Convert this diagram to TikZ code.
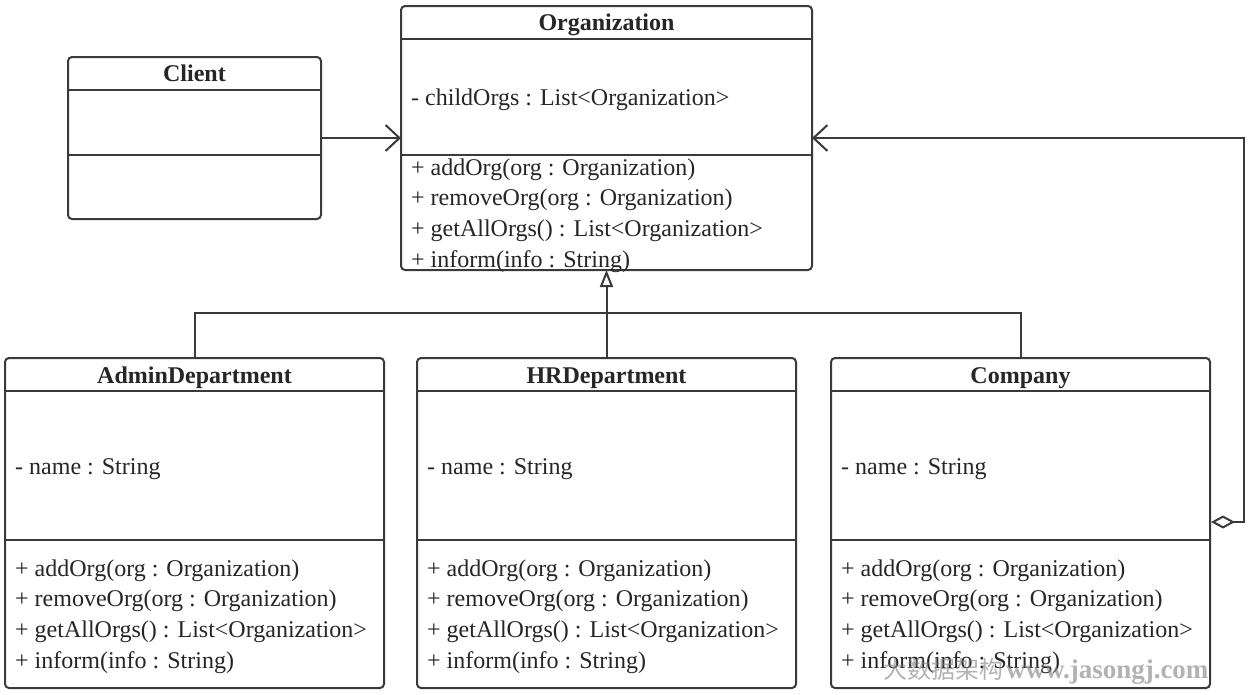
\documentclass[tikz,border=0pt]{standalone}
\usepackage{fontspec}
\setmainfont{Liberation Serif}
\newfontfamily\cjk{Noto Sans CJK SC}
\usetikzlibrary{arrows.meta}
\definecolor{linec}{HTML}{3A3A3A}
\definecolor{txtc}{HTML}{262626}
\tikzset{
 umlbox/.style={draw=linec, line width=2pt, rounded corners=4pt, inner sep=0pt, outer sep=0pt, anchor=north west},
 sepline/.style={draw=linec, line width=2pt},
 titletext/.style={font=\fontsize{24}{29}\selectfont\bfseries, text=txtc, anchor=base, inner sep=0pt},
 member/.style={font=\fontsize{24}{29}\selectfont, text=txtc, anchor=base west, inner sep=0pt},
 conn/.style={draw=linec, line width=2pt},
}
\begin{document}
\begin{tikzpicture}[x=1pt,y=-1pt]
\useasboundingbox (0,0) rectangle (1251,694);
\fill[white] (0,0) rectangle (1251,694);

% Organization
\node[umlbox, minimum width=411pt, minimum height=264pt] (org) at (401,6) {};
\draw[sepline] (401,39) -- (812,39);
\draw[sepline] (401,155) -- (812,155);
\node[titletext] (orgt) at (606.5,30) {Organization};
\node[member] (orga) at (411,105) {- childOrgs : List<Organization>};
\foreach \t [count=\i] in {{+ addOrg(org : Organization)},{+ removeOrg(org : Organization)},{+ getAllOrgs() : List<Organization>},{+ inform(info : String)}}
  \node[member] (orgm\i) at (411,{175+30.7*(\i-1)}) {\t};

% Client
\node[umlbox, minimum width=253pt, minimum height=162pt] (client) at (68,57) {};
\draw[sepline] (68,90) -- (321,90);
\draw[sepline] (68,155) -- (321,155);
\node[titletext] (clientt) at (194.5,81) {Client};

% Subclasses
\foreach \n/\nm/\x in {admin/AdminDepartment/5, hr/HRDepartment/417, company/Company/831}{
  \node[umlbox, minimum width=379pt, minimum height=330pt] (\n) at (\x,358) {};
  \draw[sepline] (\x,391) -- (\x+379,391);
  \draw[sepline] (\x,540) -- (\x+379,540);
  \node[titletext] (\n t) at (\x+189.5,383) {\nm};
  \node[member] (\n a) at (\x+10,474) {- name : String};
  \foreach \t [count=\i] in {{+ addOrg(org : Organization)},{+ removeOrg(org : Organization)},{+ getAllOrgs() : List<Organization>},{+ inform(info : String)}}
    \node[member] (\n m\i) at (\x+10,{576+30.7*(\i-1)}) {\t};
}

% Client -> Organization
\draw[conn, -{Straight Barb[length=14pt,width=26pt,line width=2pt]}] (client.east) -- (org.west);

% Generalization
\coordinate (join) at (606.5,313);
\draw[conn] (admin.north) |- (join) -| (company.north);
\draw[conn, -{Triangle[open,length=17pt,width=13pt,line width=2pt]}] (hr.north) -- (org.south);

% Aggregation
\coordinate (aggstart) at (1211,522);
\draw[conn, {Diamond[open,length=24pt,width=13pt,line width=2pt]}-{Straight Barb[length=14pt,width=26pt,line width=2pt]}] (aggstart) -- (1244,522) |- (org.east);

% Watermark
\node[anchor=base, inner sep=0pt, text=gray, opacity=0.6] (wm) at (1046,678)
  {{\cjk\fontsize{24}{29}\selectfont 大数据架构} {\fontsize{27}{32}\selectfont\bfseries www.jasongj.com}};
\end{tikzpicture}
\end{document}
